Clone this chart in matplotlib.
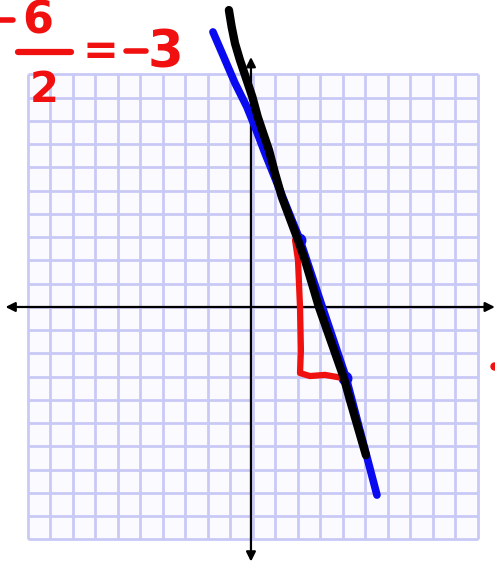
import numpy as np
from matplotlib import pyplot as plt

# hand drawn lines, in grid units (one square = 1)
blue_x = [-1.78, -1.24, -0.80, -0.27, 0.09, 0.53, 2.09, 2.98, 4.13, 5.51]
blue_y = [11.83, 10.62, 9.63, 8.60, 7.74, 6.62, 2.88, 0.30, -3.01, -8.09]

blue_pts_x = [2.05, 4.1]
blue_pts_y = [2.9, -3.05]

black_x = [-1.07, -0.95, -0.80, -0.58, -0.28, -0.03, 0.21, 0.46, 0.71, 0.98, 1.28,
           2.0, 2.31, 2.93, 4.04, 4.31, 5.02]
black_y = [12.77, 12.06, 11.34, 10.62, 9.76, 9.04, 8.18, 7.46, 6.75, 5.75, 4.74,
           2.88, 2.02, 0.0, -3.05, -4.0, -6.37]

red_x = [1.87, 2.0, 2.09, 2.13, 2.09, 2.53, 3.2, 3.96]
red_y = [2.88, 2.02, 0.0, -1.85, -2.84, -2.97, -2.92, -3.05]

grid_min, grid_max = -10, 10
red = '#f01010'

fig = plt.figure(figsize=(4.95, 5.64), dpi=100)
ax = fig.add_axes([0, 0, 1, 1])
ax.set_xlim(-11.244, 10.756)
ax.set_ylim(-11.054, 13.204)
ax.axis('off')

#graph paper
ticks = np.arange(grid_min, grid_max + 1)
ax.fill_between([grid_min, grid_max], grid_min, grid_max, color='#fbfbff', zorder=0)
ax.vlines(ticks, grid_min, grid_max, color='#c9c9f6', lw=2.0, zorder=1)
ax.hlines(ticks, grid_min, grid_max, color='#c9c9f6', lw=2.0, zorder=1)

#axes with arrows on both ends
arr = dict(arrowstyle='<|-|>', color='black', lw=1.6, mutation_scale=14, shrinkA=0, shrinkB=0)
ax.annotate('', xy=(-11.0, 0), xytext=(10.75, 0), arrowprops=arr, zorder=3)
ax.annotate('', xy=(-0.09, 10.75), xytext=(-0.09, -10.95), arrowprops=arr, zorder=3)

#blue line + its two points
ax.plot(blue_x, blue_y, color='#0a0af0', lw=5.5, solid_capstyle='round',
        solid_joinstyle='round', zorder=4)
ax.plot(blue_pts_x, blue_pts_y, 'o', color='#0a0af0', ms=9, zorder=4)

#red rise/run
ax.plot(red_x, red_y, color=red, lw=4.5, solid_capstyle='round',
        solid_joinstyle='round', zorder=5)

#black line
ax.plot(black_x, black_y, color='black', lw=6, solid_capstyle='round',
        solid_joinstyle='round', zorder=6)

#slope written in red:  -6/2 = -3
ax.plot([-11.24, -10.65], [12.34, 12.34], color=red, lw=4, solid_capstyle='round', zorder=7)
ax.text(-9.56, 11.78, '6', color=red, fontsize=32, fontweight='bold',
        ha='center', va='baseline', zorder=7)
ax.plot([-10.45, -8.1], [10.97, 10.97], color=red, lw=4.5, solid_capstyle='round', zorder=7)
ax.text(-9.3, 8.82, '2', color=red, fontsize=30, fontweight='bold',
        ha='center', va='baseline', zorder=7)
ax.text(-6.8, 10.45, '=', color=red, fontsize=31, fontweight='bold',
        ha='center', va='baseline', zorder=7)
ax.plot([-5.65, -4.75], [11.0, 11.0], color=red, lw=4, solid_capstyle='round', zorder=7)
ax.text(-3.91, 10.28, '3', color=red, fontsize=37, fontweight='bold',
        ha='center', va='baseline', zorder=7)

ax.plot([10.7], [-2.55], 'o', color=red, ms=5, zorder=7)

plt.savefig('out.png', dpi=100)
